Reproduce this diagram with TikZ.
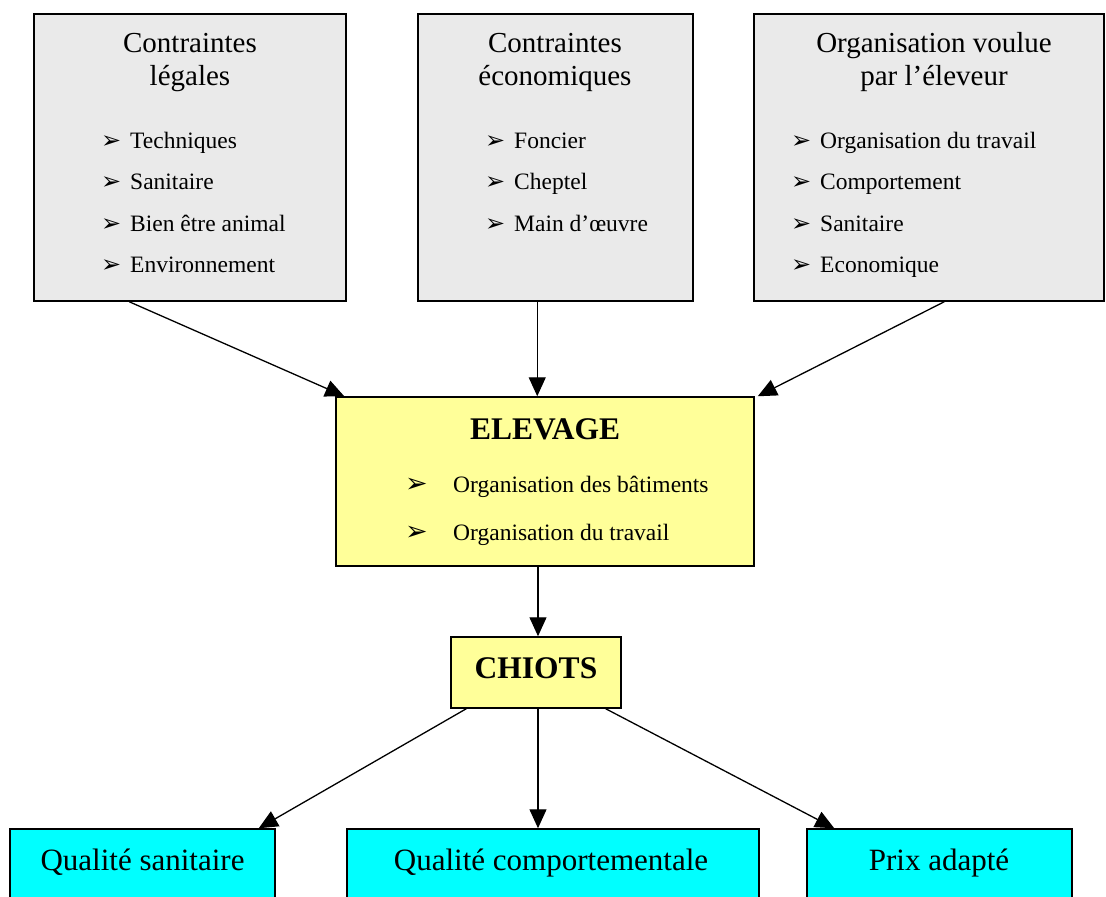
\documentclass[tikz,border=0pt]{standalone}
\usepackage{fontspec}
\setmainfont{Liberation Serif}
\newfontfamily\dejavu{DejaVu Sans}
\usetikzlibrary{arrows.meta}
\definecolor{boxgray}{HTML}{EAEAEA}
\definecolor{boxyellow}{HTML}{FFFF99}
\definecolor{boxcyan}{HTML}{00FFFF}
\begin{document}
\begin{tikzpicture}[x=1pt,y=-1pt,
  box/.style={draw=black,line width=1.5pt,rectangle,inner sep=0pt},
  graybox/.style={box,fill=boxgray,minimum height=287pt},
  yellowbox/.style={box,fill=boxyellow},
  cyanbox/.style={box,fill=boxcyan,minimum height=91pt},
  title/.style={anchor=base,font=\fontsize{29}{33}\selectfont,inner sep=0pt},
  btitle/.style={anchor=base,font=\bfseries\fontsize{31.5}{36}\selectfont,inner sep=0pt},
  item/.style={anchor=base west,font=\fontsize{23.5}{28}\selectfont,inner sep=0pt},
  bul/.style={anchor=base west,font=\dejavu\fontsize{24}{28}\selectfont,inner sep=0pt},
  bigbul/.style={anchor=base west,font=\dejavu\fontsize{27}{30}\selectfont,inner sep=0pt},
  conn/.style={line width=1.3pt,-{Triangle[length=19pt,width=17pt]}}
]
\clip (0,0) rectangle (1106,897);
\fill[white] (0,0) rectangle (1106,897);

% top boxes
\node[graybox,minimum width=312pt] (b1) at (190,157.5) {};
\node[graybox,minimum width=275pt] (b2) at (555.5,157.5) {};
\node[graybox,minimum width=350pt] (b3) at (929,157.5) {};
% middle
\node[yellowbox,minimum width=418pt,minimum height=169pt] (elev) at (545,481.5) {};
\node[yellowbox,minimum width=170pt,minimum height=71pt] (chiots) at (536,672.5) {};
% bottom
\node[cyanbox,minimum width=265pt] (qa) at (142.5,874.5) {};
\node[cyanbox,minimum width=412pt] (qb) at (553,874.5) {};
\node[cyanbox,minimum width=265pt] (qc) at (939.5,874.5) {};

% box 1 text
\node[title] (b1t1) at (190,52) {Contraintes};
\node[title] (b1t2) at (190,85) {légales};
\node[bul] (b1u1) at (101,148) {➢};
\node[item] (b1i1) at (130,148) {Techniques};
\node[bul] (b1u2) at (101,189) {➢};
\node[item] (b1i2) at (130,189) {Sanitaire};
\node[bul] (b1u3) at (101,231) {➢};
\node[item] (b1i3) at (130,231) {Bien être animal};
\node[bul] (b1u4) at (101,272) {➢};
\node[item] (b1i4) at (130,272) {Environnement};

% box 2 text
\node[title] (b2t1) at (555,52) {Contraintes};
\node[title] (b2t2) at (555,85) {économiques};
\node[bul] (b2u1) at (485,148) {➢};
\node[item] (b2i1) at (514,148) {Foncier};
\node[bul] (b2u2) at (485,189) {➢};
\node[item] (b2i2) at (514,189) {Cheptel};
\node[bul] (b2u3) at (485,231) {➢};
\node[item] (b2i3) at (514,231) {Main d’œuvre};

% box 3 text
\node[title] (b3t1) at (934,52) {Organisation voulue};
\node[title] (b3t2) at (934,85) {par l’éleveur};
\node[bul] (b3u1) at (791,148) {➢};
\node[item] (b3i1) at (820,148) {Organisation du travail};
\node[bul] (b3u2) at (791,189) {➢};
\node[item] (b3i2) at (820,189) {Comportement};
\node[bul] (b3u3) at (791,231) {➢};
\node[item] (b3i3) at (820,231) {Sanitaire};
\node[bul] (b3u4) at (791,272) {➢};
\node[item] (b3i4) at (820,272) {Economique};

% elevage text
\node[btitle] (elt) at (545,439) {ELEVAGE};
\node[bigbul] (elu1) at (405,492) {➢};
\node[item] (eli1) at (453,492) {Organisation des bâtiments};
\node[bigbul] (elu2) at (405,540) {➢};
\node[item] (eli2) at (453,540) {Organisation du travail};

% chiots text
\node[btitle] (cht) at (536,678) {CHIOTS};

% bottom text
\node[title,font=\fontsize{31}{36}\selectfont] (qat) at (142.5,870) {Qualité sanitaire};
\node[title,font=\fontsize{31}{36}\selectfont] (qbt) at (551,870) {Qualité comportementale};
\node[title,font=\fontsize{31}{36}\selectfont] (qct) at (939,870) {Prix adapté};

% connectors
\draw[conn] ([xshift=96pt]b1.south west) -- ([xshift=9pt]elev.north west);
\draw[conn] ([xshift=120pt]b2.south west) -- ([xshift=202pt]elev.north west);
\draw[conn] ([xshift=191pt]b3.south west) -- ([xshift=3pt]elev.north east);
\draw[conn] ([xshift=-7pt]elev.south) -- ([xshift=2pt]chiots.north);
\draw[conn] ([xshift=16pt]chiots.south west) -- ([xshift=-17pt]qa.north east);
\draw[conn] ([xshift=2pt]chiots.south) -- ([xshift=-15pt]qb.north);
\draw[conn] ([xshift=-16pt]chiots.south east) -- ([xshift=28pt]qc.north west);
\end{tikzpicture}
\end{document}
